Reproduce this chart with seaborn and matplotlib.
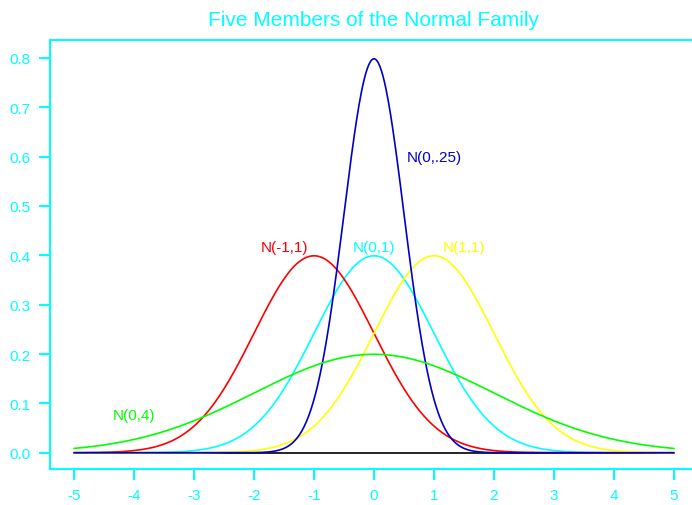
import numpy as np
import pandas as pd
import matplotlib
matplotlib.use("Agg")
import matplotlib.pyplot as plt
import seaborn as sns

# Five normal distributions: label, mean, variance, colour
labels = ["N(0,1)", "N(-1,1)", "N(1,1)", "N(0,.25)", "N(0,4)"]
means = [0.0, -1.0, 1.0, 0.0, 0.0]
variances = [1.0, 1.0, 1.0, 0.25, 4.0]
colors = ["#00FFFF", "#FF0000", "#FFFF00", "#0000CD", "#00FF00"]

# Label anchor points (x, y) in data units
label_x = [0.0, -1.5, 1.5, 0.55, -4.0]
label_y = [0.417, 0.417, 0.417, 0.60, 0.077]
label_ha = ["center", "center", "center", "left", "center"]

xticks = [-5, -4, -3, -2, -1, 0, 1, 2, 3, 4, 5]
yticks = [0.0, 0.1, 0.2, 0.3, 0.4, 0.5, 0.6, 0.7, 0.8]

x = np.linspace(-5, 5, 801)
frames = []
for lab, m, v in zip(labels, means, variances):
    sd = np.sqrt(v)
    dens = np.exp(-0.5 * ((x - m) / sd) ** 2) / (sd * np.sqrt(2 * np.pi))
    frames.append(pd.DataFrame({"x": x, "density": dens, "dist": lab}))
df = pd.concat(frames, ignore_index=True)

sns.set_style("white")
plt.rcParams["font.family"] = ["Liberation Sans", "DejaVu Sans"]

fig = plt.figure(figsize=(6.92, 5.06), dpi=100)
ax = fig.add_axes([50 / 692, 1 - 469.5 / 506, 648 / 692, (469.5 - 41) / 506])

sns.lineplot(data=df, x="x", y="density", hue="dist", hue_order=labels,
             palette=dict(zip(labels, colors)), linewidth=1.2, legend=False,
             ax=ax, sort=False, estimator=None)
ax.plot([-5, 5], [0, 0], color="black", linewidth=1.2, zorder=1)

for lab, c, lx, ly, ha in zip(labels, colors, label_x, label_y, label_ha):
    ax.text(lx, ly, lab, color=c, fontsize=11, ha=ha, va="center")

ax.set_xlim(-5.4, 5.4)
ax.set_ylim(-0.0319, 0.836)
ax.set_xticks(xticks)
ax.set_xticklabels([str(t) for t in xticks])
ax.set_yticks(yticks)
ax.set_yticklabels([f"{t:.1f}" for t in yticks])
ax.set_xlabel("")
ax.set_ylabel("")

cyan = "#00FFFF"
for side in ["left", "top", "bottom", "right"]:
    ax.spines[side].set_color(cyan)
    ax.spines[side].set_linewidth(1.5)
ax.tick_params(axis="both", colors=cyan, labelcolor=cyan, direction="out",
               length=8, width=1.5, labelsize=11, pad=6,
               bottom=True, left=True)
ax.set_title("Five Members of the Normal Family", color=cyan, fontsize=15,
             pad=11)
ax.grid(False)

fig.savefig("out.png", dpi=100)
